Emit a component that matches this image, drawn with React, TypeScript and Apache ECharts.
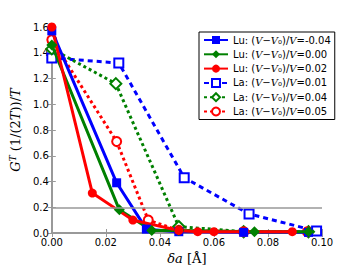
import React, { useEffect, useRef } from "react";
import * as echarts from "echarts";

const seriesNames = [
  "Lu: ({i|V}−{i|V}₀)/{i|V}=-0.04",
  "Lu: ({i|V}−{i|V}₀)/{i|V}=0.00",
  "Lu: ({i|V}−{i|V}₀)/{i|V}=0.02",
  "La: ({i|V}−{i|V}₀)/{i|V}=0.01",
  "La: ({i|V}−{i|V}₀)/{i|V}=0.04",
  "La: ({i|V}−{i|V}₀)/{i|V}=0.05",
];

const luM004: [number, number][] = [[0, 1.57], [0.024, 0.39], [0.035, 0.03], [0.047, 0.01], [0.071, 0.005], [0.095, 0.005]];
const lu000: [number, number][] = [[0, 1.46], [0.025, 0.18], [0.037, 0.02], [0.047, 0.02], [0.075, 0.01], [0.095, 0.01]];
const lu002: [number, number][] = [[0, 1.6], [0.015, 0.31], [0.03, 0.1], [0.047, 0.02], [0.054, 0.01], [0.06, 0.01], [0.089, 0.01]];
const la001: [number, number][] = [[0, 1.36], [0.0248, 1.32], [0.049, 0.43], [0.073, 0.148], [0.098, 0.015]];
const la004: [number, number][] = [[0, 1.43], [0.0237, 1.16], [0.047, 0.05], [0.071, 0.01], [0.095, 0.01]];
const la005: [number, number][] = [[0, 1.5], [0.024, 0.71], [0.0357, 0.1], [0.047, 0.02], [0.071, 0.01], [0.0946, 0.01]];

const xTicks = [0, 0.02, 0.04, 0.06, 0.08, 0.1];
const yTicks = [0, 0.2, 0.4, 0.6, 0.8, 1.0, 1.2, 1.4, 1.6];

export default function App() {
  const ref = useRef<HTMLDivElement>(null);
  useEffect(() => {
    if (!ref.current) return;
    document.body.style.margin = "0";
    const chart = echarts.init(ref.current, null, { renderer: "svg" });
    const mk = (
      name: string,
      data: [number, number][],
      color: string,
      symbol: string,
      size: number,
      dashed: any,
      filled: boolean
    ) => ({
      name,
      type: "line",
      data,
      symbol,
      symbolSize: size,
      showAllSymbol: true,
      clip: true,
      z: filled ? 3 : 2,
      lineStyle: { color, width: 3, type: dashed },
      itemStyle: filled
        ? { color, borderColor: color, borderWidth: 0 }
        : { color, borderColor: color, borderWidth: 2.5 },
    });
    const axisLine = { show: true, lineStyle: { color: "#999", width: 2 } };
    chart.setOption({
      animation: false,
      grid: { left: 44, right: 38, top: 27, bottom: 28, containLabel: false },
      legend: {
        orient: "vertical",
        left: 199,
        top: 32,
        width: 123,
        padding: [3, 4, 3, 4],
        backgroundColor: "#fff",
        borderColor: "#000",
        borderWidth: 1,
        itemWidth: 24,
        itemHeight: 10,
        itemGap: 4.3,
        textStyle: {
          fontFamily: "DejaVu Sans",
          fontSize: 10,
          color: "#000",
          rich: {
            i: { fontFamily: "DejaVu Serif", fontStyle: "italic", fontSize: 10, color: "#000" },
          },
        },
        data: seriesNames,
      },
      xAxis: [
        {
          type: "value",
          min: 0,
          max: 0.1,
          interval: 0.02,
          axisLine,
          splitLine: { show: false },
          axisTick: { show: true, inside: true, length: 4, lineStyle: { color: "#999" } },
          axisLabel: {
            color: "#000",
            fontFamily: "DejaVu Sans",
            fontSize: 10,
            margin: 4,
            formatter: (v: number) => (xTicks.some((t) => Math.abs(t - v) < 1e-9) ? v.toFixed(2) : ""),
          },
          name: "{i|δa} [Å]",
          nameLocation: "middle",
          nameGap: 19,
          nameTextStyle: {
            fontFamily: "DejaVu Serif",
            fontSize: 13,
            color: "#000",
            rich: { i: { fontFamily: "DejaVu Serif", fontStyle: "italic", fontSize: 13, color: "#000" } },
          },
        },
        {
          type: "value",
          position: "top",
          min: 0,
          max: 0.1,
          interval: 0.02,
          axisLine,
          splitLine: { show: false },
          axisTick: { show: true, inside: true, length: 4, lineStyle: { color: "#999" } },
          axisLabel: { show: false },
        },
      ],
      yAxis: [
        {
          type: "value",
          min: 0,
          max: 1.6,
          interval: 0.2,
          axisLine,
          splitLine: { show: false },
          axisTick: { show: true, inside: true, length: 4, lineStyle: { color: "#999" } },
          axisLabel: {
            color: "#000",
            fontFamily: "DejaVu Sans",
            fontSize: 10,
            margin: 3,
            formatter: (v: number) => (yTicks.some((t) => Math.abs(t - v) < 1e-9) ? v.toFixed(1) : ""),
          },
          name: "{i|G}{s|T} (1/(2{i|T}))/{i|T}",
          nameLocation: "middle",
          nameGap: 25,
          nameRotate: 90,
          nameTextStyle: {
            fontFamily: "DejaVu Serif",
            fontSize: 13,
            color: "#000",
            rich: {
              i: { fontFamily: "DejaVu Serif", fontStyle: "italic", fontSize: 13, color: "#000" },
              s: { fontFamily: "DejaVu Serif", fontStyle: "italic", fontSize: 9, color: "#000", padding: [0, 0, 6, 0] },
            },
          },
        },
        {
          type: "value",
          position: "right",
          min: 0,
          max: 1.6,
          interval: 0.2,
          axisLine,
          splitLine: { show: false },
          axisTick: { show: true, inside: true, length: 4, lineStyle: { color: "#999" } },
          axisLabel: { show: false },
        },
      ],
      series: [
        {
          ...mk(seriesNames[0], luM004, "#0000ff", "rect", 9, "solid", true),
          markLine: {
            silent: true,
            symbol: "none",
            label: { show: false },
            lineStyle: { color: "#999", width: 1.5, type: "solid" },
            data: [{ yAxis: 0.2 }],
          },
        },
        mk(seriesNames[1], lu000, "#008000", "diamond", 11, "solid", true),
        mk(seriesNames[2], lu002, "#ff0000", "circle", 9, "solid", true),
        mk(seriesNames[3], la001, "#0000ff", "emptyRect", 9, [5, 4], false),
        mk(seriesNames[4], la004, "#008000", "emptyDiamond", 11, [3, 3], false),
        mk(seriesNames[5], la005, "#ff0000", "emptyCircle", 9, [3, 3], false),
      ],
    });
    return () => chart.dispose();
  }, []);
  return <div ref={ref} style={{ width: 360, height: 270 }} />;
}
